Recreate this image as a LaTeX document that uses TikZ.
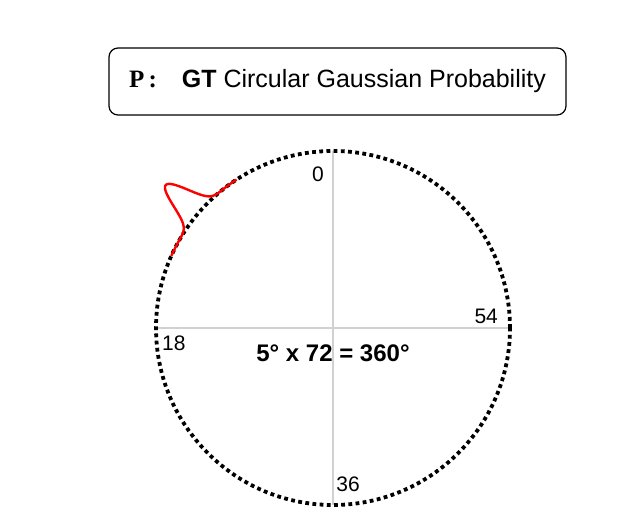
\documentclass[tikz,border=0pt]{standalone}
\usepackage{fontspec}
\setmainfont{Liberation Sans}
\newfontfamily\serifP{Liberation Serif}
\usetikzlibrary{positioning}

\begin{document}
\begin{tikzpicture}[x=1pt,y=1pt,
	ringdots/.style={draw=black, line width=3.8pt, dash pattern=on 3.8pt off 3.4pt},
	axisline/.style={draw=black!18, line width=1.2pt},
	binlabel/.style={inner sep=0pt, font=\fontsize{21}{21}\selectfont}]
	\useasboundingbox (0,0) rectangle (643,530);

	% title box
	\node[draw, line width=1.2pt, rounded corners=9pt, minimum width=457, minimum height=67,
		font=\fontsize{25}{25}\selectfont] (title) at (337.5,448.5)
		{{\serifP\bfseries P\,:}\quad\textbf{GT} Circular Gaussian Probability};

	% circle of bins
	\begin{scope}
		\node[circle, minimum size=354, inner sep=0pt] (ring) at (333,202) {};
		\draw[axisline] (ring.north) -- (ring.south);
		\draw[axisline] (ring.west) -- (ring.east);
		\draw[ringdots] (ring.center) circle (177);

		\node[binlabel] (b0) at ([xshift=-15,yshift=-23]ring.north) {0};
		\node[binlabel] (b54) at ([xshift=-24,yshift=12]ring.east) {54};
		\node[binlabel] (b18) at ([xshift=18,yshift=-15]ring.west) {18};
		\node[binlabel] (b36) at ([xshift=15,yshift=21]ring.south) {36};

		\node[font=\bfseries\fontsize{24}{24}\selectfont] (rule) at ([yshift=-25]ring.center)
			{5° x 72 = 360°};

		% gaussian on the ring
		\begin{scope}[shift={(ring.center)}]
			\draw[red, line width=2.4pt, domain=123:156, samples=120, smooth]
				plot ({\x}:{177+43*exp(-(\x-139.5)*(\x-139.5)/16)});
		\end{scope}
	\end{scope}
\end{tikzpicture}
\end{document}
